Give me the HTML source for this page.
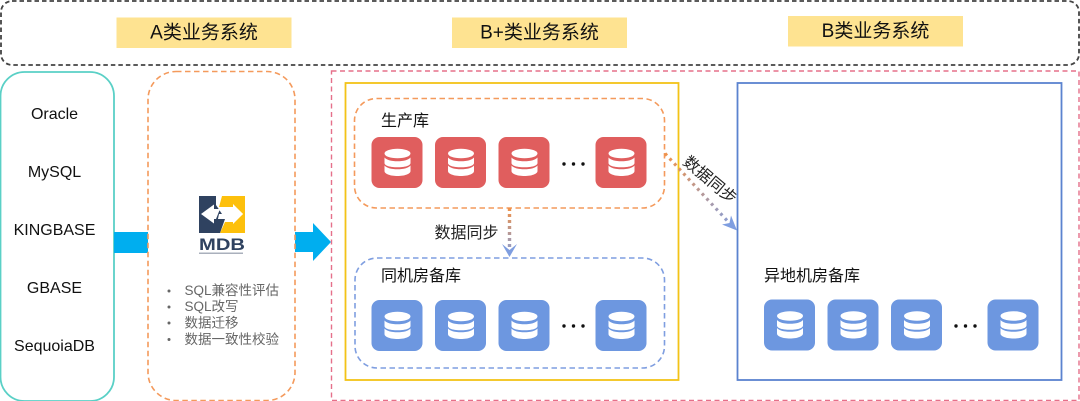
<!DOCTYPE html>
<html><head><meta charset="utf-8">
<style>
html,body{margin:0;padding:0;background:#fff;width:1080px;height:401px;overflow:hidden}
svg{display:block}
text{font-family:"Liberation Sans","Noto Sans CJK SC",sans-serif}
</style></head>
<body>
<svg width="1080" height="401" viewBox="0 0 1080 401" xmlns="http://www.w3.org/2000/svg">
<defs>
<symbol id="db" viewBox="0 0 51 51" width="51" height="51" overflow="visible">
  <rect x="0" y="0" width="51" height="51" rx="8" fill="currentColor"/>
  <ellipse cx="26" cy="16.500" rx="13" ry="4.800" fill="#fff"/>
  <path d="M13 20.500C15 23 20 24.300 26 24.300S37 23 39 20.500V26C39 28.800 33 30.300 26 30.300S13 28.800 13 26Z" fill="#fff"/>
  <path d="M13 28.500C15 31 20 32.300 26 32.300S37 31 39 28.500V34C39 37 33 39 26 39S13 37 13 34Z" fill="#fff"/>
</symbol>
<linearGradient id="g1" gradientUnits="userSpaceOnUse" x1="509" y1="208" x2="509" y2="258"><stop offset="0" stop-color="#f0924a"/><stop offset="1" stop-color="#7f9ee0"/></linearGradient>
<linearGradient id="g2" gradientUnits="userSpaceOnUse" x1="665" y1="153" x2="737" y2="230"><stop offset="0" stop-color="#f0924a"/><stop offset="1" stop-color="#7f9ee0"/></linearGradient>
</defs>

<!-- top band -->
<rect x="1" y="1" width="1078" height="64" rx="11" fill="none" stroke="#444" stroke-width="1.800" stroke-dasharray="4.500 3"/>
<rect x="116.500" y="17.500" width="175" height="30.500" fill="#fee391"/>
<rect x="452" y="17.500" width="175" height="30.500" fill="#fee391"/>
<rect x="788" y="16" width="175" height="30.500" fill="#fee391"/>
<text x="204" y="38.500" font-size="19" text-anchor="middle" fill="#111">A类业务系统</text>
<text x="539.500" y="38.500" font-size="19" text-anchor="middle" fill="#111">B+类业务系统</text>
<text x="875.500" y="37" font-size="19" text-anchor="middle" fill="#111">B类业务系统</text>

<!-- left db list -->
<rect x="0.500" y="72" width="113.500" height="329" rx="24" fill="#fff" stroke="#5ad0c6" stroke-width="1.800"/>
<g font-size="16" text-anchor="middle" fill="#111">
<text x="54.500" y="119">Oracle</text>
<text x="54.500" y="177">MySQL</text>
<text x="54.500" y="235">KINGBASE</text>
<text x="54.500" y="293">GBASE</text>
<text x="54.500" y="351">SequoiaDB</text>
</g>

<!-- arrows -->
<rect x="114" y="232" width="34" height="21" fill="#00aeef"/>
<path d="M295 232H313V223L331 242L313 261V252H295Z" fill="#00aeef"/>

<!-- MDB box -->
<rect x="148" y="71.500" width="147" height="329" rx="28" fill="none" stroke="#f49a5c" stroke-width="1.600" stroke-dasharray="5.500 3.500"/>
<!-- logo -->
<path d="M199 196H216V205L222 214H219L215 233H199Z" fill="#2f4260"/>
<path d="M222 196H245V233H220L225 222H233V224L243 214L233 204V207H219Z" fill="#fdc00c"/>
<path d="M216 219H225L220 233H205Z" fill="#2f4260"/>
<path d="M201 214L214 204.500V209H220L216 219H214V223.500Z" fill="#fff"/>
<path d="M243 214L233 204.500V208.500H226L222 218H233V223Z" fill="#fff"/>
<text x="222" y="250" font-size="16.500" font-weight="700" text-anchor="middle" fill="#2f4260" textLength="46" lengthAdjust="spacingAndGlyphs">MDB</text>
<rect x="199" y="252.500" width="44" height="1.500" fill="#aab0bc"/>
<g font-size="13.500" fill="#666">
<circle cx="169" cy="291" r="1.500" fill="#666"/>
<circle cx="169" cy="307" r="1.500" fill="#666"/>
<circle cx="169" cy="323" r="1.500" fill="#666"/>
<circle cx="169" cy="339.500" r="1.500" fill="#666"/>
<text x="184.500" y="295">SQL兼容性评估</text>
<text x="184.500" y="311">SQL改写</text>
<text x="184.500" y="327.500">数据迁移</text>
<text x="184.500" y="344">数据一致性校验</text>
</g>

<!-- outer pink dashed -->
<rect x="331.500" y="71" width="747.500" height="329.500" fill="none" stroke="#e5708a" stroke-width="1.400" stroke-dasharray="5 3.500"/>

<!-- B+ yellow -->
<rect x="345.500" y="83" width="333" height="297" fill="none" stroke="#f3c317" stroke-width="1.800"/>
<!-- B blue -->
<rect x="737.500" y="83" width="324" height="297" fill="none" stroke="#5b83cf" stroke-width="1.800"/>

<!-- production -->
<rect x="354.500" y="98.500" width="310" height="109.500" rx="22" fill="none" stroke="#f49a5c" stroke-width="1.600" stroke-dasharray="5.500 3.500"/>
<text x="381" y="126" font-size="16" fill="#111">生产库</text>
<g color="#e05e5e">
<use href="#db" x="371.500" y="137"/>
<use href="#db" x="435" y="137"/>
<use href="#db" x="498.500" y="137"/>
<use href="#db" x="595.500" y="137"/>
</g>
<g fill="#111">
<circle cx="564" cy="164" r="1.700"/><circle cx="573.500" cy="164" r="1.700"/><circle cx="583" cy="164" r="1.700"/>
</g>

<!-- same-room -->
<rect x="355" y="258" width="309.500" height="110" rx="22" fill="none" stroke="#7f9ee0" stroke-width="1.600" stroke-dasharray="5.500 3.500"/>
<text x="381" y="281" font-size="16" fill="#111">同机房备库</text>
<g color="#6d97e0">
<use href="#db" x="371.500" y="300"/>
<use href="#db" x="435" y="300"/>
<use href="#db" x="498.500" y="300"/>
<use href="#db" x="595.500" y="300"/>
</g>
<g fill="#111">
<circle cx="564" cy="326" r="1.700"/><circle cx="573.500" cy="326" r="1.700"/><circle cx="583" cy="326" r="1.700"/>
</g>

<!-- remote -->
<text x="764" y="281" font-size="16" fill="#111">异地机房备库</text>
<g color="#6d97e0">
<use href="#db" x="764" y="299.500"/>
<use href="#db" x="827.500" y="299.500"/>
<use href="#db" x="891" y="299.500"/>
<use href="#db" x="987.500" y="299.500"/>
</g>
<g fill="#111">
<circle cx="956" cy="326" r="1.700"/><circle cx="965.500" cy="326" r="1.700"/><circle cx="975" cy="326" r="1.700"/>
</g>

<!-- connectors -->
<path d="M509.500 208V254" fill="none" stroke="url(#g1)" stroke-width="3.400" stroke-dasharray="3 3"/>
<path d="M502 244L509.500 257L517 244L509.500 250Z" fill="#7f9ee0"/>
<text x="434.500" y="238" font-size="16" fill="#222">数据同步</text>

<path d="M665 153.500L733 227" fill="none" stroke="url(#g2)" stroke-width="3.200" stroke-dasharray="2.800 4"/>
<path d="M737 230.500L722 224.500L729.500 223L731 215.500Z" fill="#7f9ee0"/>
<text x="0" y="0" font-size="16" fill="#222" transform="translate(682 163.500) rotate(40)">数据同步</text>
</svg>
</body></html>
